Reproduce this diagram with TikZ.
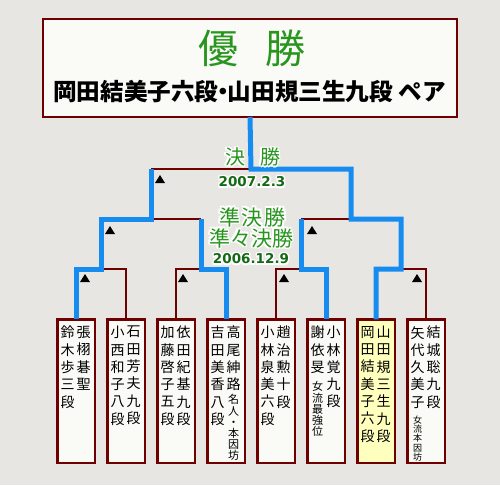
\documentclass[tikz,border=0pt]{standalone}
\usepackage{fontspec}
\newfontfamily\jp{Noto Sans CJK JP}
\newfontfamily\dv{DejaVu Sans}
\definecolor{bgc}{RGB}{232,230,227}
\definecolor{boxfill}{RGB}{250,250,246}
\definecolor{frame}{RGB}{110,0,0}
\definecolor{winblue}{RGB}{22,140,240}
\definecolor{hilite}{RGB}{255,255,190}
\definecolor{brush}{RGB}{40,150,30}
\definecolor{dategreen}{RGB}{20,105,20}
\newcommand\halonode[4]{%
  \foreach \hx/\hy in {1.5/0,-1.5/0,0/1.5,0/-1.5,1.1/1.1,-1.1/1.1,1.1/-1.1,-1.1/-1.1}{%
    \node[#3,text=white] at ([shift={(\hx,\hy)}]#2) {#4};}
  \node[#3] (#1) at (#2) {#4};}
\newcommand\tri[1]{\fill[black] (#1) ++(-5,4) -- ++(10,0) -- ++(-5,-8) -- cycle;}
\begin{document}
\begin{tikzpicture}[x=1pt,y=-1pt,
  leafbox/.style={draw=frame,line width=2.5pt,fill=boxfill,minimum width=37.5pt,minimum height=143.5pt,inner sep=0,outer sep=0},
  col/.style={font=\jp\fontsize{14}{17.3}\selectfont,align=center,anchor=north,inner sep=0},
  smallcol/.style={font=\jp\fontsize{11}{11.2}\selectfont,align=center,anchor=north,inner sep=0},
  tinycol/.style={font=\jp\fontsize{9}{9.25}\selectfont,align=center,anchor=north,inner sep=0},
  redline/.style={draw=frame,line width=2pt},
  blueline/.style={draw=winblue,line width=5pt,line join=miter},
  brushlabel/.style={font=\jp\fontsize{20}{22}\selectfont,text=brush,inner sep=0},
  datelabel/.style={font=\dv\bfseries\fontsize{13.5}{15}\selectfont,text=dategreen,inner sep=0},
]
\useasboundingbox (0,0) rectangle (500,485);
\fill[bgc] (0,0) rectangle (500,485);

% champion box
\node[draw=frame,line width=2pt,fill=boxfill,minimum width=414pt,minimum height=98pt,inner sep=0,outer sep=0] (champ) at (250,68) {};
\node[font=\jp\fontsize{40}{44}\selectfont,text=brush,inner sep=0] (title) at (251.5,48.5) {優\hspace{27pt}勝};
\node[font=\jp\bfseries\fontsize{23.6}{26}\selectfont,inner sep=0] (pair) at (249.5,92) {岡田結美子六段\kern-0.3em・\kern-0.3em山田規三生九段 ペア};

% leaf boxes
\foreach \i/\x in {1/76,2/126,3/176,4/226,5/276,6/326,8/426}{\node[leafbox] (b\i) at (\x,391) {};}
\node[leafbox,fill=hilite] (b7) at (376,391) {};

% junctions
\coordinate (q1) at (101,269);
\coordinate (q2) at (201,269);
\coordinate (q3) at (301,269);
\coordinate (q4) at (401,269);
\coordinate (s1) at (151,219);
\coordinate (s2) at (351,219);
\coordinate (f) at (251,169);

% losing halves
\draw[redline] (q1) -| (b2.north);
\draw[redline] (q2) -| (b3.north);
\draw[redline] (q3) -| (b5.north);
\draw[redline] (q4) -| (b8.north);
\draw[redline] (q2 |- s1) -- (s1);
\draw[redline] (q3 |- s2) -- (s2);
\draw[redline] (s1 |- f) -- (f);

% winning paths
\draw[blueline] (b1.north) |- (q1) |- (s1) -- (s1 |- f);
\draw[blueline] (b4.north) |- (q2) -- (q2 |- s1);
\draw[blueline] (b6.north) |- (q3) -- (q3 |- s2);
\draw[blueline] (b7.north) |- (q4) |- (s2) |- (f) -- (champ.south);

% triangles
\tri{85,278}
\tri{183,278}
\tri{284,278}
\tri{417,278}
\tri{110,230}
\tri{312,230}
\tri{160,179}

% round labels
\halonode{final}{252.5,157}{brushlabel}{決\hspace{15pt}勝}
\halonode{fdate}{252,182}{datelabel}{2007.2.3}
\halonode{semi}{252.5,217}{brushlabel,font=\jp\fontsize{21}{23}\selectfont}{準\kern2pt決\kern2pt勝}
\halonode{quarter}{251,238}{brushlabel,font=\jp\fontsize{21}{23}\selectfont}{準々決勝}
\halonode{sdate}{251,259}{datelabel}{2006.12.9}

% player names (right column read first)
\node[col] (b1r) at (83.5,326) {張\\栩\\碁\\聖};
\node[col] (b1l) at (67.5,326) {鈴\\木\\歩\\三\\段};
\node[col] (b2r) at (133.5,326) {石\\田\\芳\\夫\\九\\段};
\node[col] (b2l) at (117.5,326) {小\\西\\和\\子\\八\\段};
\node[col] (b3r) at (183.5,326) {依\\田\\紀\\基\\九\\段};
\node[col] (b3l) at (167.5,326) {加\\藤\\啓\\子\\五\\段};
\node[col] (b4r) at (233.5,326) {高\\尾\\紳\\路};
\node[smallcol] (b4rs) at (233.5,394.5) {名\\人\\・\\本\\因\\坊};
\node[col] (b4l) at (217.5,326) {吉\\田\\美\\香\\八\\段};
\node[col] (b5r) at (283.5,326) {趙\\治\\勲\\十\\段};
\node[col] (b5l) at (267.5,326) {小\\林\\泉\\美\\六\\段};
\node[col] (b6r) at (333.5,326) {小\\林\\覚\\九\\段};
\node[col] (b6l) at (317.5,326) {謝\\依\\旻};
\node[smallcol] (b6ls) at (317.5,381.5) {女\\流\\最\\強\\位};
\node[col] (b7r) at (383.5,326) {山\\田\\規\\三\\生\\九\\段};
\node[col] (b7l) at (367.5,326) {岡\\田\\結\\美\\子\\六\\段};
\node[col] (b8r) at (433.5,326) {結\\城\\聡\\九\\段};
\node[col] (b8l) at (417.5,326) {矢\\代\\久\\美\\子};
\node[tinycol] (b8ls) at (417.5,415.5) {女\\流\\本\\因\\坊};
\end{tikzpicture}
\end{document}
